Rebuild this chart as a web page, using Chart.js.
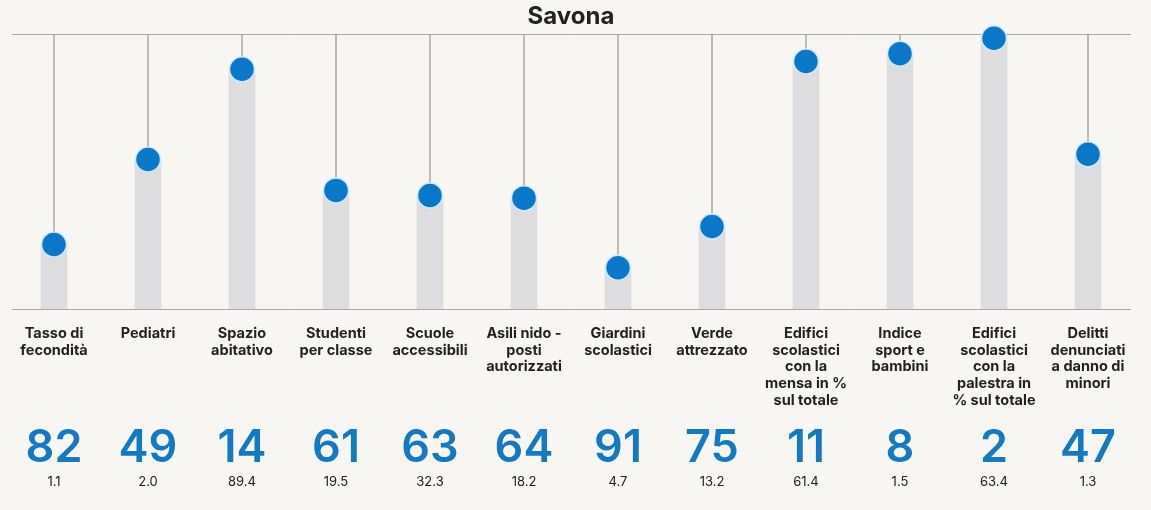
<!DOCTYPE html>
<html>
<head>
<meta charset="utf-8">
<script src="https://cdn.jsdelivr.net/npm/chart.js@4"></script>
<style>
  body { margin: 0; background: #f8f6f3; }
  #wrap { width: 1151px; height: 510px; }
</style>
</head>
<body>
<div id="wrap"><canvas id="chart"></canvas></div>
<script>
const titolo = 'Savona';
const categorie = [
    ['Tasso di', 'fecondità'],
    ['Pediatri'],
    ['Spazio', 'abitativo'],
    ['Studenti', 'per classe'],
    ['Scuole', 'accessibili'],
    ['Asili nido -', 'posti', 'autorizzati'],
    ['Giardini', 'scolastici'],
    ['Verde', 'attrezzato'],
    ['Edifici', 'scolastici', 'con la', 'mensa in %', 'sul totale'],
    ['Indice', 'sport e', 'bambini'],
    ['Edifici', 'scolastici', 'con la', 'palestra in', '% sul totale'],
    ['Delitti', 'denunciati', 'a danno di', 'minori']
];
const posizioni = [82, 49, 14, 61, 63, 64, 91, 75, 11, 8, 2, 47]; // posizione in classifica
const valori = ['1.1', '2.0', '89.4', '19.5', '32.3', '18.2', '4.7', '13.2', '61.4', '1.5', '63.4', '1.3'];
const primoPosto = 0.5;   // cima dell'asse
const ultimoPosto = 107;  // fondo dell'asse

const BLU = '#1479c4';
const TESTO = '#222222';

// Linee orizzontali in cima e in fondo
const pluginLinee = {
    id: 'linee',
    beforeDatasetsDraw(chart) {
        const ctx = chart.ctx;
        const y = chart.scales.y;
        const area = chart.chartArea;
        ctx.save();
        ctx.strokeStyle = '#a8a8a8';
        ctx.lineWidth = 1;
        [primoPosto, ultimoPosto].forEach(v => {
            const py = Math.round(y.getPixelForValue(v)) + 0.5;
            ctx.beginPath();
            ctx.moveTo(area.left + 5, py);
            ctx.lineTo(area.right - 4, py);
            ctx.stroke();
        });
        ctx.restore();
    }
};

// Numeri grandi e valori sotto le etichette
const pluginNumeri = {
    id: 'numeri',
    afterDraw(chart) {
        const ctx = chart.ctx;
        const x = chart.scales.x;
        ctx.save();
        ctx.textAlign = 'center';
        ctx.textBaseline = 'middle';
        posizioni.forEach((p, i) => {
            const px = x.getPixelForValue(i);
            ctx.fillStyle = BLU;
            ctx.font = '600 45px Inter';
            ctx.fillText(String(p), px, 448);
            ctx.fillStyle = TESTO;
            ctx.font = '13px Inter';
            ctx.fillText(valori[i], px, 482);
        });
        ctx.restore();
    }
};

new Chart(document.getElementById('chart'), {
    type: 'bar',
    data: {
        labels: categorie,
        datasets: [
            {
                type: 'line',
                data: posizioni,
                showLine: false,
                clip: false,
                pointRadius: 12.5,
                pointHoverRadius: 12.5,
                pointBackgroundColor: '#0a78c8',
                pointBorderColor: '#d3e9f8',
                pointBorderWidth: 1.5,
                order: 0
            },
            {
                data: posizioni.map(p => [ultimoPosto, p]),
                backgroundColor: '#dddde0',
                barThickness: 26,
                grouped: false,
                order: 1
            },
            {
                data: posizioni.map(p => [primoPosto, p]),
                backgroundColor: '#b0b0b0',
                barThickness: 1,
                grouped: false,
                order: 2
            }
        ]
    },
    options: {
        responsive: true,
        maintainAspectRatio: false,
        animation: false,
        layout: { autoPadding: false, padding: { left: 7, right: 16, top: 0, bottom: 0 } },
        plugins: {
            legend: { display: false },
            tooltip: { enabled: false },
            title: {
                display: true,
                text: titolo,
                color: TESTO,
                font: { family: 'Inter', size: 24, weight: 'bold', lineHeight: 1.1 },
                padding: { top: 4, bottom: 4 }
            }
        },
        scales: {
            x: {
                grid: { display: false },
                border: { display: false },
                ticks: {
                    color: TESTO,
                    font: { family: 'Inter', size: 14.5, weight: 'bold', lineHeight: 1.16 },
                    padding: 8,
                    autoSkip: false,
                    maxRotation: 0
                },
                afterFit: (scale) => {
                    scale.height = 201;
                    scale.paddingLeft = 0;
                    scale.paddingRight = 0;
                }
            },
            y: {
                display: false,
                reverse: true,
                min: primoPosto,
                max: ultimoPosto
            }
        }
    },
    plugins: [pluginLinee, pluginNumeri]
});
</script>
</body>
</html>
